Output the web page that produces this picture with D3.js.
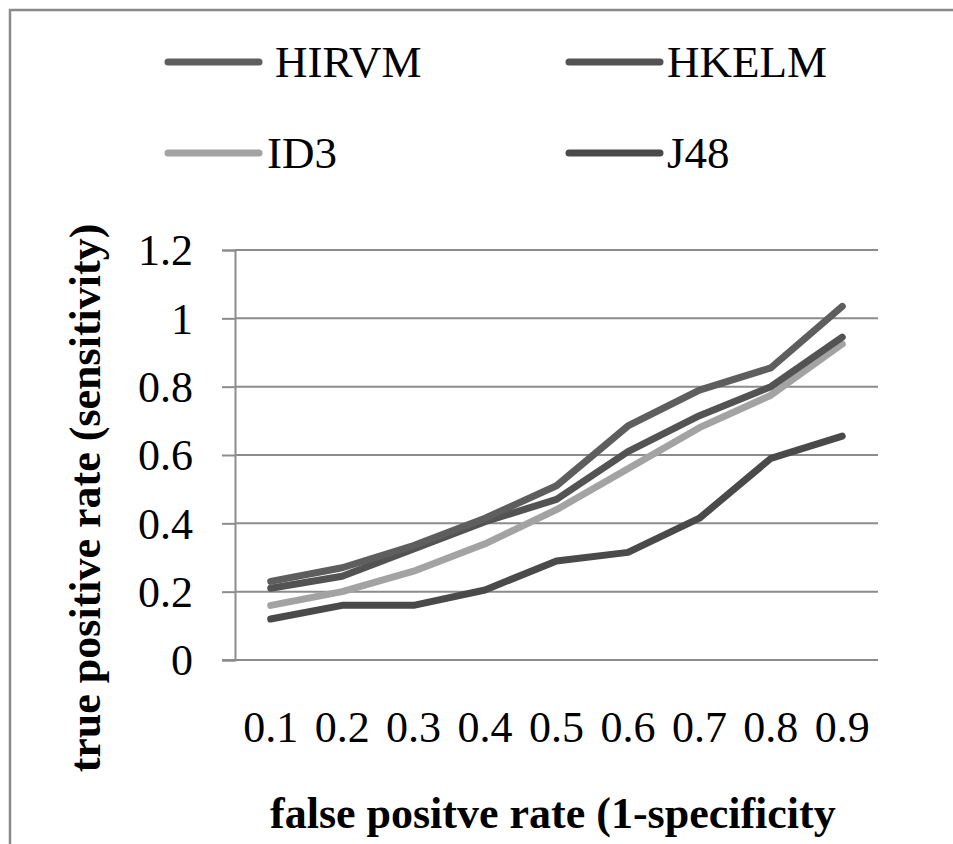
<!DOCTYPE html>
<html>
<head>
<meta charset="utf-8">
<script src="https://cdn.jsdelivr.net/npm/d3@7/dist/d3.min.js"></script>
<style>
  html, body { margin: 0; padding: 0; background: #fff; }
  svg { display: block; }
  text { font-family: "Liberation Serif", "Times New Roman", serif; fill: #000; }
</style>
</head>
<body>
<svg id="chart" width="953" height="844"></svg>
<script>
// ---- data ----
const categories = ["0.1", "0.2", "0.3", "0.4", "0.5", "0.6", "0.7", "0.8", "0.9"];
const seriesNames = ["HIRVM", "HKELM", "ID3", "J48"];
const HIRVM = [0.23, 0.27, 0.335, 0.415, 0.51, 0.685, 0.79, 0.855, 1.035];
const HKELM = [0.21, 0.245, 0.325, 0.405, 0.47, 0.61, 0.715, 0.80, 0.945];
const ID3   = [0.16, 0.20, 0.26, 0.34, 0.44, 0.56, 0.68, 0.775, 0.925];
const J48   = [0.12, 0.16, 0.16, 0.205, 0.29, 0.315, 0.415, 0.59, 0.655];
const yTicks = [0, 0.2, 0.4, 0.6, 0.8, 1, 1.2];
const yTickLabels = ["0", "0.2", "0.4", "0.6", "0.8", "1", "1.2"];
const xTitle = "false positve rate (1-specificity";
const yTitle = "true positive rate (sensitivity)";

const seriesValues = { HIRVM, HKELM, ID3, J48 };
const colors = { HIRVM: "#5e5e5e", HKELM: "#535353", ID3: "#a3a3a3", J48: "#4a4a4a" };

// ---- layout ----
const svg = d3.select("#chart");
const plot = { left: 235, right: 878, top: 250, bottom: 660 };

// outer border
svg.append("rect")
  .attr("x", 10).attr("y", 10).attr("width", 980).attr("height", 900)
  .attr("fill", "none").attr("stroke", "#8a8a8a").attr("stroke-width", 2.5);

const x = d3.scaleBand().domain(categories).range([plot.left, plot.right]);
const y = d3.scaleLinear().domain([0, 1.2]).range([plot.bottom, plot.top]);

// gridlines
svg.append("g")
  .selectAll("line")
  .data(yTicks.filter(d => d > 0))
  .join("line")
  .attr("x1", plot.left).attr("x2", plot.right)
  .attr("y1", d => y(d)).attr("y2", d => y(d))
  .attr("stroke", "#8c8c8c").attr("stroke-width", 2);

// y axis
const yAxis = d3.axisLeft(y).tickValues(yTicks)
  .tickFormat((d, i) => yTickLabels[i]).tickSize(13).tickPadding(29);
const gy = svg.append("g").attr("transform", `translate(${plot.left},0)`).call(yAxis);
gy.select(".domain").attr("stroke", "#8c8c8c").attr("stroke-width", 2);
gy.selectAll(".tick line").attr("stroke", "#8c8c8c").attr("stroke-width", 2);
gy.selectAll(".tick text")
  .attr("font-size", 44).attr("font-family", "Liberation Serif").attr("fill", "#000")
  .attr("dy", "0.34em");

// x axis
const xAxis = d3.axisBottom(x).tickSize(0).tickPadding(0);
const gx = svg.append("g").attr("transform", `translate(0,${plot.bottom})`).call(xAxis);
gx.select(".domain").remove();
gx.selectAll(".tick text")
  .attr("font-size", 44).attr("font-family", "Liberation Serif").attr("fill", "#000")
  .attr("dy", null).attr("y", 82);
svg.append("line")
  .attr("x1", plot.left - 13).attr("x2", plot.right)
  .attr("y1", plot.bottom).attr("y2", plot.bottom)
  .attr("stroke", "#8c8c8c").attr("stroke-width", 2);

// lines
const line = d3.line()
  .x((d, i) => x(categories[i]) + x.bandwidth() / 2)
  .y(d => y(d));

const drawOrder = ["J48", "ID3", "HKELM", "HIRVM"];
svg.append("g").selectAll("path")
  .data(drawOrder)
  .join("path")
  .attr("d", k => line(seriesValues[k]))
  .attr("fill", "none")
  .attr("stroke", k => colors[k])
  .attr("stroke-width", 7)
  .attr("stroke-linecap", "round")
  .attr("stroke-linejoin", "round");

// legend
const legendPos = [
  { x: 168, y: 62, dx: 16 },
  { x: 569, y: 62, dx: 7 },
  { x: 168, y: 153, dx: 8 },
  { x: 569, y: 153, dx: 7 }
];
const lg = svg.append("g").selectAll("g")
  .data(seriesNames)
  .join("g")
  .attr("transform", (d, i) => `translate(${legendPos[i].x},${legendPos[i].y})`);
lg.append("line")
  .attr("x1", 0).attr("x2", 91).attr("y1", 0).attr("y2", 0)
  .attr("stroke", d => colors[d]).attr("stroke-width", 7).attr("stroke-linecap", "round");
lg.append("text")
  .attr("x", (d, i) => 91 + legendPos[i].dx)
  .attr("y", 15)
  .attr("font-size", 45)
  .text(d => d);

// axis titles
svg.append("text")
  .attr("x", 270).attr("y", 828)
  .attr("font-size", 44).attr("font-weight", "bold")
  .text(xTitle);

svg.append("text")
  .attr("transform", "translate(100,498) rotate(-90)")
  .attr("text-anchor", "middle")
  .attr("font-size", 44).attr("font-weight", "bold")
  .text(yTitle);
</script>
</body>
</html>
